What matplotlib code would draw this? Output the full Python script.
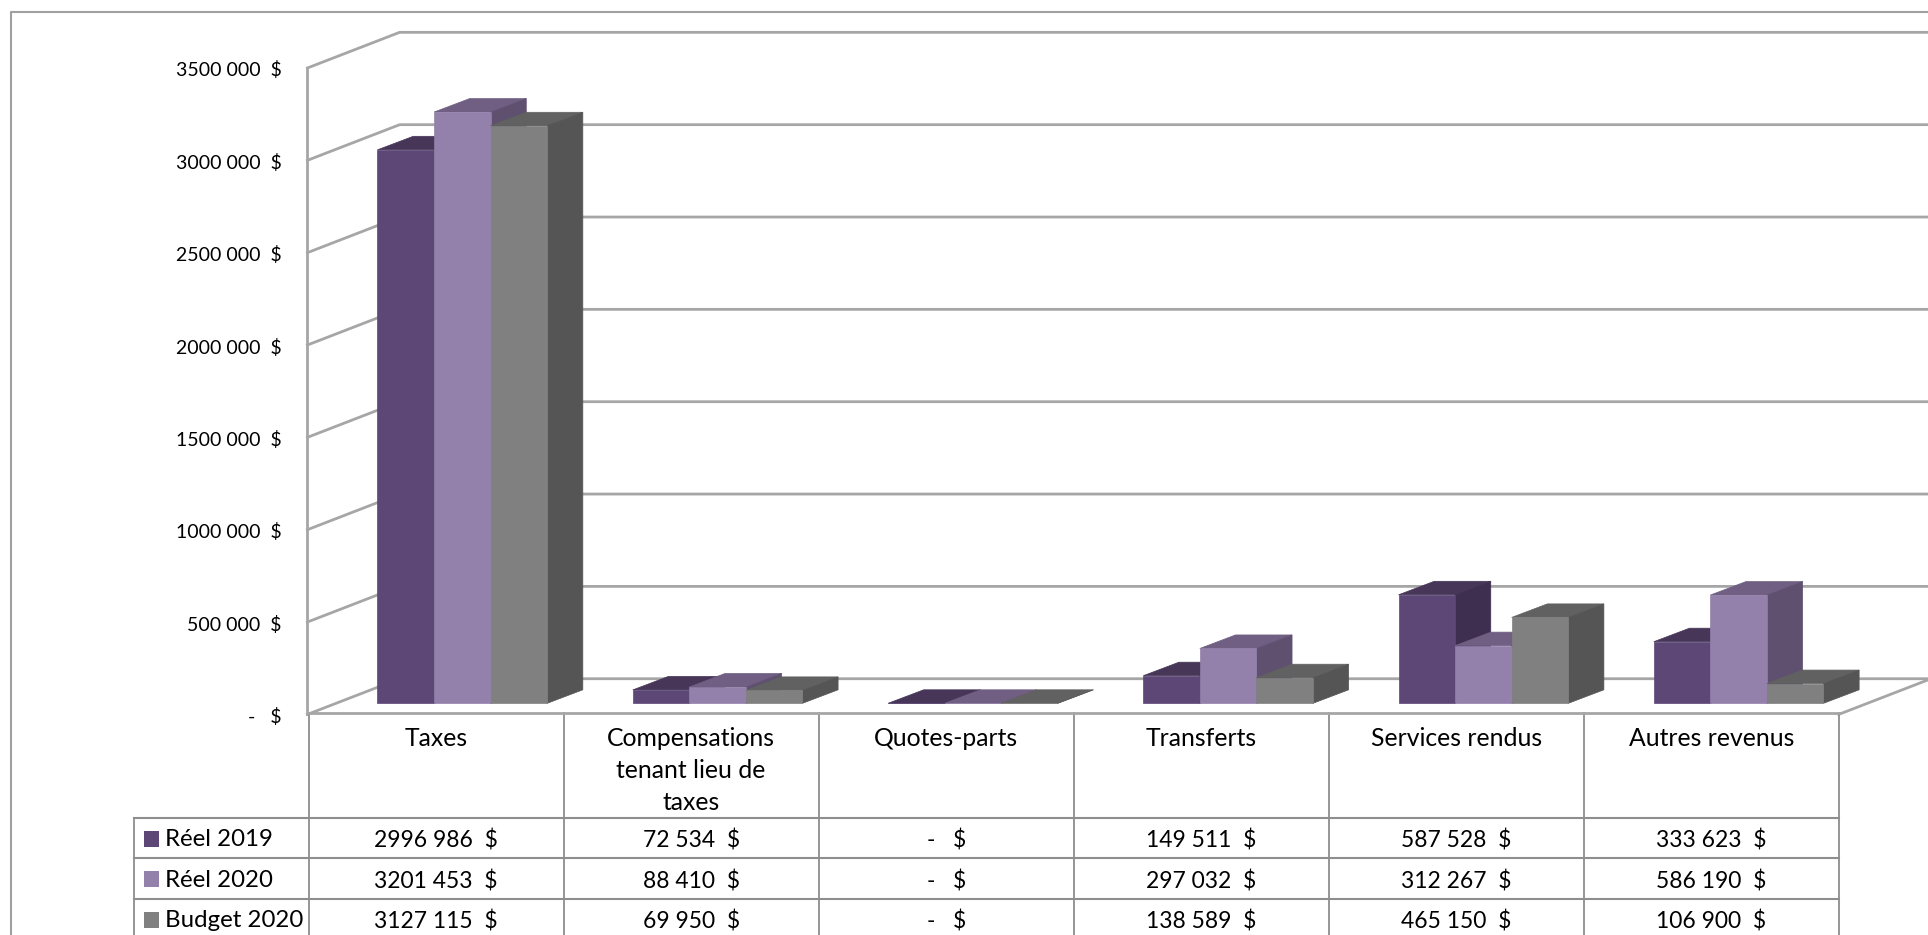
import matplotlib
matplotlib.use("Agg")
import matplotlib.pyplot as plt
from matplotlib.patches import Polygon, Rectangle

categories = ["Taxes", "Compensations\ntenant lieu de\ntaxes", "Quotes-parts",
              "Transferts", "Services rendus", "Autres revenus"]
series_names = ["Réel 2019", "Réel 2020", "Budget 2020"]
reel_2019 = [2996986, 72534, 0, 149511, 587528, 333623]
reel_2020 = [3201453, 88410, 0, 297032, 312267, 586190]
budget_2020 = [3127115, 69950, 0, 138589, 465150, 106900]
y_ticks = [0, 500000, 1000000, 1500000, 2000000, 2500000, 3000000, 3500000]

# front, top, side
colors = [("#5C4776", "#483659", "#3E2E50"),
          ("#9380AB", "#715F83", "#5F5070"),
          ("#808080", "#616161", "#555555")]
GRID = "#A6A6A6"
TABLE = "#8E8E8E"
FS_TICK = 14
FS_HEAD = 17.8
FS_NAME = 17.3
FS_CELL = 16.5

plt.rcParams["font.family"] = ["Lato", "DejaVu Sans"]

W, H = 1928, 935
S = W / 1568  # layout measured on a 1568 wide view

fig = plt.figure(figsize=(W / 100, H / 100), dpi=100)
ax = fig.add_axes([0, 0, 1, 1])
ax.set_xlim(0, W)
ax.set_ylim(H, 0)
ax.axis("off")

# geometry
x_wall = 250 * S
y_floor = 581 * S
y_top = 55.3 * S
depth_x = 75 * S
depth_y = 29 * S
x_cols = [(251 + 207.4 * i) * S for i in range(7)]
x_legend = 109 * S
y_rows = [580 * S, 665 * S, 698 * S, 731 * S, 764 * S]
px_per_unit = (y_floor - y_top) / 3500000
y_base = 572 * S
bar_w = 46 * S
bar_dx = 29 * S
bar_dy = 11 * S
group_x = [(307 + 207.6 * i) * S for i in range(6)]


def money(v):
    if v == 0:
        return "-   $"
    return f"{v // 1000} {v % 1000:03d}  $"


# outer border
ax.plot([9 * S, 9 * S, W], [H, 10 * S, 10 * S], color="#A0A0A0", lw=1.5, zorder=1)

# walls and gridlines
for t in y_ticks:
    y = y_floor - t * px_per_unit
    ax.plot([x_wall, x_wall + depth_x, W], [y, y - depth_y, y - depth_y], color=GRID, lw=2, zorder=1)
ax.plot([x_wall, x_wall], [y_top, y_floor], color=GRID, lw=2, zorder=1)
ax.plot([x_cols[-1], x_cols[-1] + depth_x], [y_floor, y_floor - depth_y], color=GRID, lw=2, zorder=1)

# y tick labels
for t in y_ticks:
    y = y_floor - t * px_per_unit
    ax.text(229 * S, y + 2.5, money(t), ha="right", va="center", fontsize=FS_TICK, color="black")

# bars, left to right so later fronts cover earlier sides
values = [reel_2019, reel_2020, budget_2020]
for g, x0 in enumerate(group_x):
    for s, vals in enumerate(values):
        x1 = x0 + s * bar_w
        x2 = x1 + bar_w
        yt = y_base - vals[g] * px_per_unit
        front, top, side = colors[s]
        ax.add_patch(Polygon([(x1, yt), (x2, yt), (x2 + bar_dx, yt - bar_dy), (x1 + bar_dx, yt - bar_dy)],
                             closed=True, fc=top, ec=top, lw=0.5, zorder=3))
        ax.add_patch(Polygon([(x2, yt), (x2 + bar_dx, yt - bar_dy), (x2 + bar_dx, y_base - bar_dy), (x2, y_base)],
                             closed=True, fc=side, ec=side, lw=0.5, zorder=3))
        ax.add_patch(Rectangle((x1, yt), bar_w, y_base - yt, fc=front, ec=front, lw=0.5, zorder=3))

# data table lines
for x in x_cols:
    ax.plot([x, x], [y_rows[0], H], color=TABLE, lw=1.3, zorder=2)
ax.plot([x_cols[0], x_cols[-1]], [y_rows[0], y_rows[0]], color=GRID, lw=2, zorder=2)
for y in y_rows[1:]:
    ax.plot([x_legend, x_cols[-1]], [y, y], color=TABLE, lw=1.5, zorder=2)
ax.plot([x_legend, x_legend], [y_rows[1], H], color=TABLE, lw=1.3, zorder=2)

# category headers
for i, cat in enumerate(categories):
    xc = (x_cols[i] + x_cols[i + 1]) / 2
    for j, line in enumerate(cat.split("\n")):
        ax.text(xc, (601 + 26 * j) * S, line, ha="center", va="center", fontsize=FS_HEAD, color="black")

# table rows
for r, name in enumerate(series_names):
    yc = (y_rows[r + 1] + y_rows[r + 2]) / 2
    ax.add_patch(Rectangle((117 * S, yc - 6 * S), 12.5 * S, 13 * S, fc=colors[r][0], ec="none", zorder=3))
    ax.text(134 * S, yc + 1.5, name, ha="left", va="center", fontsize=FS_NAME, color="black")
    for i, v in enumerate(values[r]):
        xc = (x_cols[i] + x_cols[i + 1]) / 2
        ax.text(xc, yc + 2.5, money(v), ha="center", va="center", fontsize=FS_CELL, color="black")

fig.savefig("out.png", dpi=100, facecolor="white")
